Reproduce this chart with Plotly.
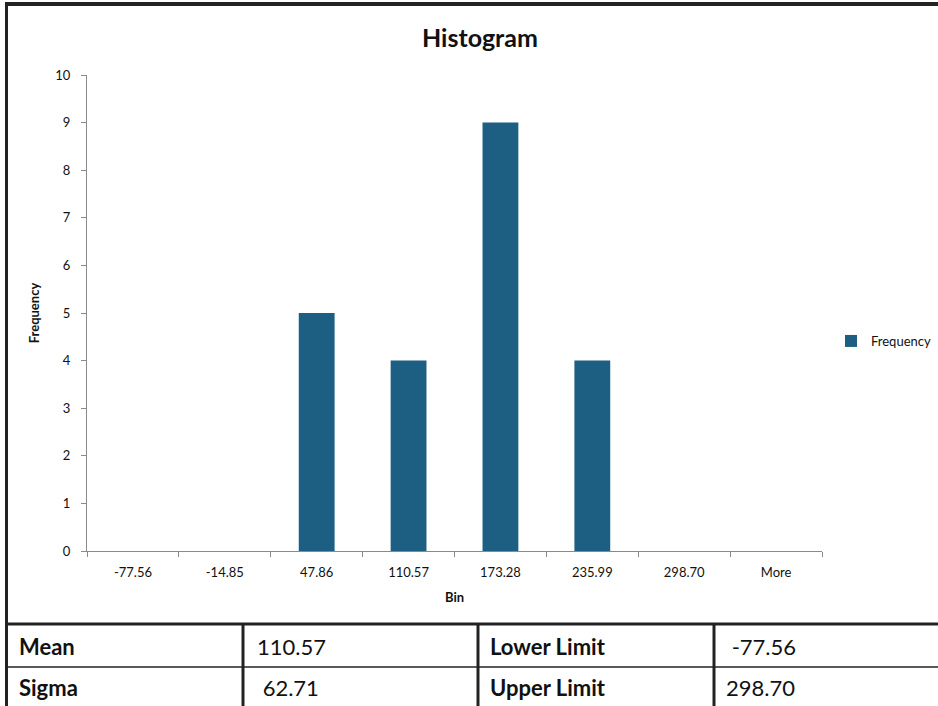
import plotly.graph_objects as go

bins = ["-77.56", "-14.85", "47.86", "110.57", "173.28", "235.99", "298.70", "More"]
frequency = [0, 0, 5, 4, 9, 4, 0, 0]

table_labels_1 = ["Mean", "Sigma"]
table_values_1 = ["110.57", " 62.71"]
table_labels_2 = ["Lower Limit", "Upper Limit"]
table_values_2 = [" -77.56", "298.70"]

W, H = 938, 706
L, R, T, B = 87, 116, 75, 155
PW = W - L - R
PH = H - T - B
FONT = "Lato, Open Sans, sans-serif"


def px(x):
    return (x - L) / PW


def py(y):
    return (H - B - y) / PH


fig = go.Figure()
fig.add_trace(go.Bar(
    x=bins, y=frequency, name="Frequency",
    marker=dict(color="#1c5f82", line=dict(width=0)),
    showlegend=True,
))

shapes = []
line_col = "#222222"
# outer border
shapes.append(dict(type="line", xref="paper", yref="paper", x0=px(5), x1=px(940), y0=py(4), y1=py(4),
                   line=dict(color=line_col, width=4)))
shapes.append(dict(type="line", xref="paper", yref="paper", x0=px(6.5), x1=px(6.5), y0=py(3), y1=py(710),
                   line=dict(color=line_col, width=3)))
# table lines
shapes.append(dict(type="line", xref="paper", yref="paper", x0=px(5), x1=px(940), y0=py(624), y1=py(624),
                   line=dict(color=line_col, width=3)))
shapes.append(dict(type="line", xref="paper", yref="paper", x0=px(5), x1=px(940), y0=py(667), y1=py(667),
                   line=dict(color=line_col, width=1.5)))
for cx in [243, 478, 714]:
    shapes.append(dict(type="line", xref="paper", yref="paper", x0=px(cx), x1=px(cx), y0=py(624), y1=py(710),
                       line=dict(color=line_col, width=3)))

annotations = []
annotations.append(dict(text="<b>Histogram</b>", xref="paper", yref="paper", x=px(480), y=py(37),
                        showarrow=False, font=dict(family=FONT, size=25, color="#111"),
                        xanchor="center", yanchor="middle"))
row_y = [646, 688]
for i in range(2):
    annotations.append(dict(text="<b>" + table_labels_1[i] + "</b>", xref="paper", yref="paper",
                            x=px(17), y=py(row_y[i]), showarrow=False, xanchor="left", yanchor="middle",
                            font=dict(family=FONT, size=22, color="#111")))
    annotations.append(dict(text=table_values_1[i], xref="paper", yref="paper",
                            x=px(255), y=py(row_y[i]), showarrow=False, xanchor="left", yanchor="middle",
                            font=dict(family=FONT, size=22, color="#111")))
    annotations.append(dict(text="<b>" + table_labels_2[i] + "</b>", xref="paper", yref="paper",
                            x=px(488), y=py(row_y[i]), showarrow=False, xanchor="left", yanchor="middle",
                            font=dict(family=FONT, size=22, color="#111")))
    annotations.append(dict(text=table_values_2[i], xref="paper", yref="paper",
                            x=px(724), y=py(row_y[i]), showarrow=False, xanchor="left", yanchor="middle",
                            font=dict(family=FONT, size=22, color="#111")))

fig.update_layout(
    width=W, height=H,
    margin=dict(l=L, r=R, t=T, b=B, autoexpand=False),
    paper_bgcolor="white", plot_bgcolor="white",
    bargap=0.61,
    font=dict(family=FONT, size=13, color="#111"),
    shapes=shapes,
    annotations=annotations,
    legend=dict(x=px(831), y=py(341), xanchor="left", yanchor="middle",
                font=dict(family=FONT, size=13, color="#111"), bgcolor="rgba(0,0,0,0)",
                itemwidth=30),
    xaxis=dict(
        type="category", showgrid=False, zeroline=False,
        showline=True, linecolor="#8a8a8a", linewidth=1,
        ticks="outside", tickson="boundaries", ticklen=5, tickcolor="#8a8a8a",
        ticklabelstandoff=9,
        tickfont=dict(family=FONT, size=13, color="#111"),
        title=dict(text="<b>Bin</b>", font=dict(family=FONT, size=13, color="#111"), standoff=14),
    ),
    yaxis=dict(
        range=[0, 10], dtick=1, showgrid=False, zeroline=False,
        showline=True, linecolor="#8a8a8a", linewidth=1,
        ticks="outside", ticklen=5, tickcolor="#8a8a8a",
        ticklabelstandoff=8,
        tickfont=dict(family=FONT, size=13, color="#111"),
        title=dict(text="<b>Frequency</b>", font=dict(family=FONT, size=13, color="#111"), standoff=12),
    ),
)

fig.write_html("out.html", config={"displayModeBar": False},
               post_script="document.body.style.margin='0';document.body.style.overflow='hidden';")
